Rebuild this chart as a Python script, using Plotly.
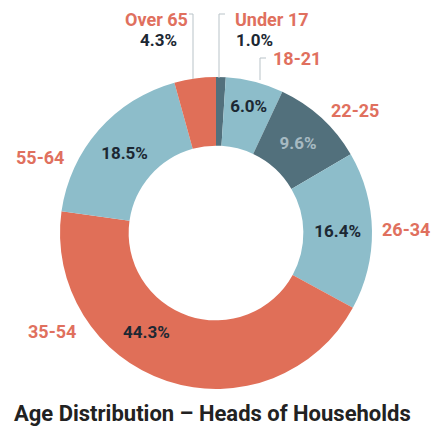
import plotly.graph_objects as go

categories = ["Under 17", "18-21", "22-25", "26-34", "35-54", "55-64", "Over 65"]
values = [1.0, 6.0, 9.6, 16.4, 44.3, 18.5, 4.3]
inside_labels = ["", "6.0%", "9.6%", "16.4%", "", "18.5%", ""]

LIGHT = "#8dbdca"
DARK = "#52707c"
ORANGE = "#e06f58"
LABEL = "#e0705e"
TXT = "#1c2833"

slice_colors = [DARK, LIGHT, DARK, LIGHT, ORANGE, LIGHT, ORANGE]
text_colors = [TXT, TXT, "#a7bac2", TXT, TXT, TXT, TXT]

# page body has an 8px margin; work in window pixel coordinates
OFF = 8
W, H = 440 - OFF, 437 - OFF
cx, cy, R = 216, 233, 156

FONT = "Roboto, Liberation Sans, sans-serif"

def px(x):
    return (x - OFF) / W

def py(y):
    return 1 - (y - OFF) / H

fig = go.Figure(go.Pie(
    labels=categories,
    values=values,
    text=inside_labels,
    textinfo="text",
    textposition="inside",
    insidetextorientation="horizontal",
    insidetextfont=dict(family=FONT, size=17, color=text_colors, weight="bold"),
    hole=0.56,
    sort=False,
    direction="clockwise",
    rotation=0,
    marker=dict(colors=slice_colors, line=dict(width=0)),
    showlegend=False,
    hoverinfo="label+value",
    domain=dict(x=[px(cx - R), px(cx + R)], y=[py(cy + R), py(cy - R)]),
))

label_font = dict(family=FONT, size=18, color=LABEL)
pct_font = dict(family=FONT, size=17, color=TXT)

ann = []
def add(text, x, y, font, xanchor="center"):
    ann.append(dict(text=f"<b>{text}</b>", x=px(x), y=py(y),
                    xref="paper", yref="paper", showarrow=False, font=font,
                    xanchor=xanchor, yanchor="middle"))

add("Over 65", 190, 19, label_font, "right")
add("4.3%", 179, 40, pct_font, "right")
add("Under 17", 233, 19, label_font, "left")
add("1.0%", 234, 40, pct_font, "left")
add("18-21", 271, 59, label_font, "left")
add("22-25", 329, 111, label_font, "left")
add("26-34", 380, 229, label_font, "left")
add("35-54", 26, 331, label_font, "left")
add("55-64", 14, 157, label_font, "left")
# percentage of the 35-54 slice, placed as in the original (left of slice centre)
add(f"{values[4]:.1f}%", 146, 332, dict(family=FONT, size=17, color=TXT))

shapes = []
def line(x0, y0, x1, y1):
    shapes.append(dict(type="line", xref="paper", yref="paper",
                       x0=px(x0), y0=py(y0), x1=px(x1), y1=py(y1),
                       line=dict(color="#b9c3c8", width=1)))

line(189, 14, 193, 14)
line(193, 14, 193, 79)
line(219, 14, 225, 14)
line(219, 14, 219, 78)
line(260, 58, 266, 58)
line(260, 58, 260, 80)

fig.update_layout(
    width=W, height=H,
    margin=dict(l=0, r=0, t=0, b=0),
    paper_bgcolor="white",
    plot_bgcolor="white",
    annotations=ann + [dict(
        text="<b>Age Distribution – Heads of Households</b>",
        x=px(12), y=py(413), xref="paper", yref="paper", showarrow=False,
        xanchor="left", yanchor="middle",
        font=dict(family=FONT, size=22, color="#222222"),
    )],
    shapes=shapes,
)

fig.write_html("out.html")
